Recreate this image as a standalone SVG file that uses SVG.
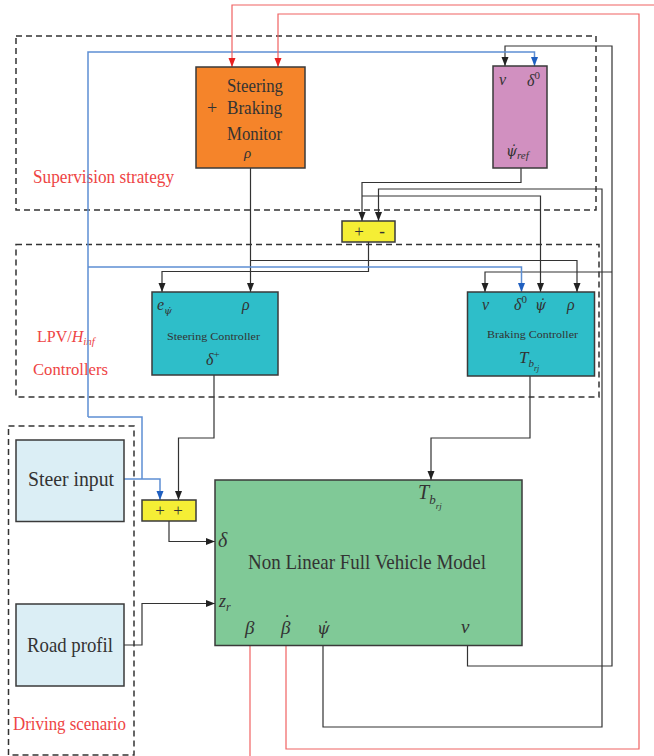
<svg xmlns="http://www.w3.org/2000/svg" width="654" height="756" viewBox="0 0 654 756">
<defs>
<style>
.box{stroke:#3a3a3a;stroke-width:1.5}
.dash{fill:none;stroke:#333;stroke-width:1.5;stroke-dasharray:6,4}
.t{font-family:"Liberation Serif","Times New Roman",serif;fill:#333}
.m{font-family:"Liberation Serif","Times New Roman",serif;font-style:italic;fill:#333}
.dv{font-family:"DejaVu Serif",serif;font-style:italic;fill:#333}
.red{font-family:"Liberation Serif","Times New Roman",serif;fill:#ee4444}
.k{fill:none;stroke:#333;stroke-width:1.2}
.b{fill:none;stroke:#5d8ed4;stroke-width:1.5}
.r{fill:none;stroke:#f06262;stroke-width:1.2}
</style>
<marker id="ak" markerUnits="userSpaceOnUse" markerWidth="10" markerHeight="8" refX="9" refY="3.5" orient="auto"><path d="M0,0 L9,3.5 L0,7 z" fill="#222"/></marker>
<marker id="ab" markerUnits="userSpaceOnUse" markerWidth="10" markerHeight="8" refX="9" refY="3.5" orient="auto"><path d="M0,0 L9,3.5 L0,7 z" fill="#1f5fc0"/></marker>
<marker id="ar" markerUnits="userSpaceOnUse" markerWidth="10" markerHeight="8" refX="9" refY="3.5" orient="auto"><path d="M0,0 L9,3.5 L0,7 z" fill="#e82020"/></marker>
</defs>
<rect width="654" height="756" fill="#fff"/>

<g id="regions">
<rect class="dash" x="16" y="36" width="580" height="174"/>
<rect class="dash" x="16" y="244.5" width="583" height="152.5"/>
<rect class="dash" x="8.5" y="426" width="125.5" height="329"/>
<text class="red" x="33" y="183" font-size="18" textLength="141" lengthAdjust="spacingAndGlyphs">Supervision strategy</text>
<text class="red" x="37" y="342" font-size="16">LPV/<tspan font-style="italic">H</tspan><tspan font-style="italic" font-size="11" dy="3">inf</tspan></text>
<text class="red" x="33" y="375" font-size="17" textLength="75" lengthAdjust="spacingAndGlyphs">Controllers</text>
<text class="red" x="13" y="730" font-size="18" textLength="113" lengthAdjust="spacingAndGlyphs">Driving scenario</text>
</g>

<g id="connectors">
<path class="k" d="M250.5,168 V292" marker-end="url(#ak)"/>
<path class="k" d="M250.5,260.5 H577 V292" marker-end="url(#ak)"/>
<path class="k" d="M521,168 V182.5 H362 V221" marker-end="url(#ak)"/>
<path class="k" d="M362,196 H540.5 V292" marker-end="url(#ak)"/>
<path class="k" d="M368.5,242 V271.5 H162 V292" marker-end="url(#ak)"/>
<path class="k" d="M323,645 V727 H602 V189 H378.5 V221" marker-end="url(#ak)"/>
<path class="k" d="M467.5,645 V666 H612 V46 H505 V66" marker-end="url(#ak)"/>
<path class="k" d="M612,272 H485 V292" marker-end="url(#ak)"/>
<path class="k" d="M214,375 V438 H178.5 V500" marker-end="url(#ak)"/>
<path class="k" d="M530,376 V438 H431 V480" marker-end="url(#ak)"/>
<path class="k" d="M169,521 V541.5 H215" marker-end="url(#ak)"/>
<path class="k" d="M124,645 H142 V603.5 H215" marker-end="url(#ak)"/>
<path class="b" d="M88,417 V52 H534.5 V66" marker-end="url(#ab)"/>
<path class="b" d="M88,417 H142 V479"/>
<path class="b" d="M88,267 H521.5 V292" marker-end="url(#ab)"/>
<path class="b" d="M124,479 H160 V500" marker-end="url(#ab)"/>
<path class="r" d="M654,5 H232 V67" marker-end="url(#ar)"/>
<path class="r" d="M286,645 V749 H639 V14 H278 V67" marker-end="url(#ar)"/>
<path class="r" d="M250,645 V756"/>
</g>

<g id="monitor">
<rect class="box" x="196" y="67" width="109" height="101" fill="#f5842a"/>
<text class="t" x="227" y="92" font-size="18" textLength="56" lengthAdjust="spacingAndGlyphs">Steering</text>
<text class="t" x="207" y="114" font-size="18">+</text>
<text class="t" x="227" y="114" font-size="18" textLength="55" lengthAdjust="spacingAndGlyphs">Braking</text>
<text class="t" x="227" y="140" font-size="18" textLength="55" lengthAdjust="spacingAndGlyphs">Monitor</text>
<text class="m" x="244" y="158" font-size="15">ρ</text>
</g>

<g id="reference">
<rect class="box" x="493" y="66" width="54" height="102" fill="#d190c0"/>
<text class="m" x="499" y="85" font-size="16">v</text>
<text class="m" x="527" y="86" font-size="16">δ<tspan font-size="11" font-style="normal" dy="-7">0</tspan></text>
<text class="dv" x="506" y="156" font-size="14">ψ&#x307;<tspan class="m" font-size="11" dy="3">ref</tspan></text>
</g>

<g id="adder1">
<rect class="box" x="342" y="221" width="53" height="21" fill="#f5ee35"/>
<text class="t" x="359" y="237" font-size="17" text-anchor="middle">+</text>
<text class="t" x="382" y="237" font-size="17" text-anchor="middle" font-weight="bold">-</text>
</g>

<g id="steering-controller">
<rect class="box" x="152" y="292" width="126" height="83" fill="#2ebec9"/>
<text class="m" x="157" y="310" font-size="16">e<tspan class="dv" font-size="10" dy="4">ψ&#x307;</tspan></text>
<text class="m" x="242" y="310" font-size="16">ρ</text>
<text class="t" x="167" y="340" font-size="11" textLength="93" lengthAdjust="spacingAndGlyphs">Steering Controller</text>
<text class="m" x="206" y="365" font-size="16">δ<tspan font-size="11" font-style="normal" dy="-7">+</tspan></text>
</g>

<g id="braking-controller">
<rect class="box" x="467.5" y="292" width="127" height="84" fill="#2ebec9"/>
<text class="m" x="482" y="310" font-size="16">v</text>
<text class="m" x="514" y="310" font-size="16">δ<tspan font-size="11" font-style="normal" dy="-7">0</tspan></text>
<text class="dv" x="535" y="310" font-size="14">ψ&#x307;</text>
<text class="m" x="567" y="310" font-size="16">ρ</text>
<text class="t" x="487" y="338" font-size="11" textLength="91" lengthAdjust="spacingAndGlyphs">Braking Controller</text>
<text class="m" x="519" y="363" font-size="17">T<tspan font-size="11" dy="4">b</tspan><tspan font-size="8" dy="4">rj</tspan></text>
</g>

<g id="steer-input">
<rect class="box" x="16" y="440" width="108" height="81.5" fill="#dbeef5"/>
<text class="t" x="28" y="486" font-size="21" textLength="86" lengthAdjust="spacingAndGlyphs">Steer input</text>
</g>

<g id="road-profil">
<rect class="box" x="16" y="604" width="108" height="82" fill="#dbeef5"/>
<text class="t" x="27" y="652" font-size="21" textLength="86" lengthAdjust="spacingAndGlyphs">Road profil</text>
</g>

<g id="adder2">
<rect class="box" x="142" y="500" width="54" height="21" fill="#f5ee35"/>
<text class="t" x="160" y="516" font-size="17" text-anchor="middle">+</text>
<text class="t" x="178" y="516" font-size="17" text-anchor="middle">+</text>
</g>

<g id="vehicle-model">
<rect class="box" x="215" y="480" width="307" height="165.5" fill="#80c997"/>
<text class="m" x="418" y="499" font-size="20">T<tspan font-size="13" dy="5">b</tspan><tspan font-size="9" dy="5">rj</tspan></text>
<text class="m" x="218" y="547" font-size="20">δ</text>
<text class="m" x="219" y="607" font-size="18">z<tspan font-size="12" dy="4">r</tspan></text>
<text class="t" x="248" y="569" font-size="21" textLength="238" lengthAdjust="spacingAndGlyphs">Non Linear Full Vehicle Model</text>
<text class="m" x="245" y="634" font-size="19">β</text>
<text class="m" x="281" y="634" font-size="19">β<tspan x="284" y="628" font-style="normal">˙</tspan></text>
<text class="dv" x="317" y="634" font-size="16">ψ&#x307;</text>
<text class="m" x="461" y="633" font-size="19">v</text>
</g>
</svg>
